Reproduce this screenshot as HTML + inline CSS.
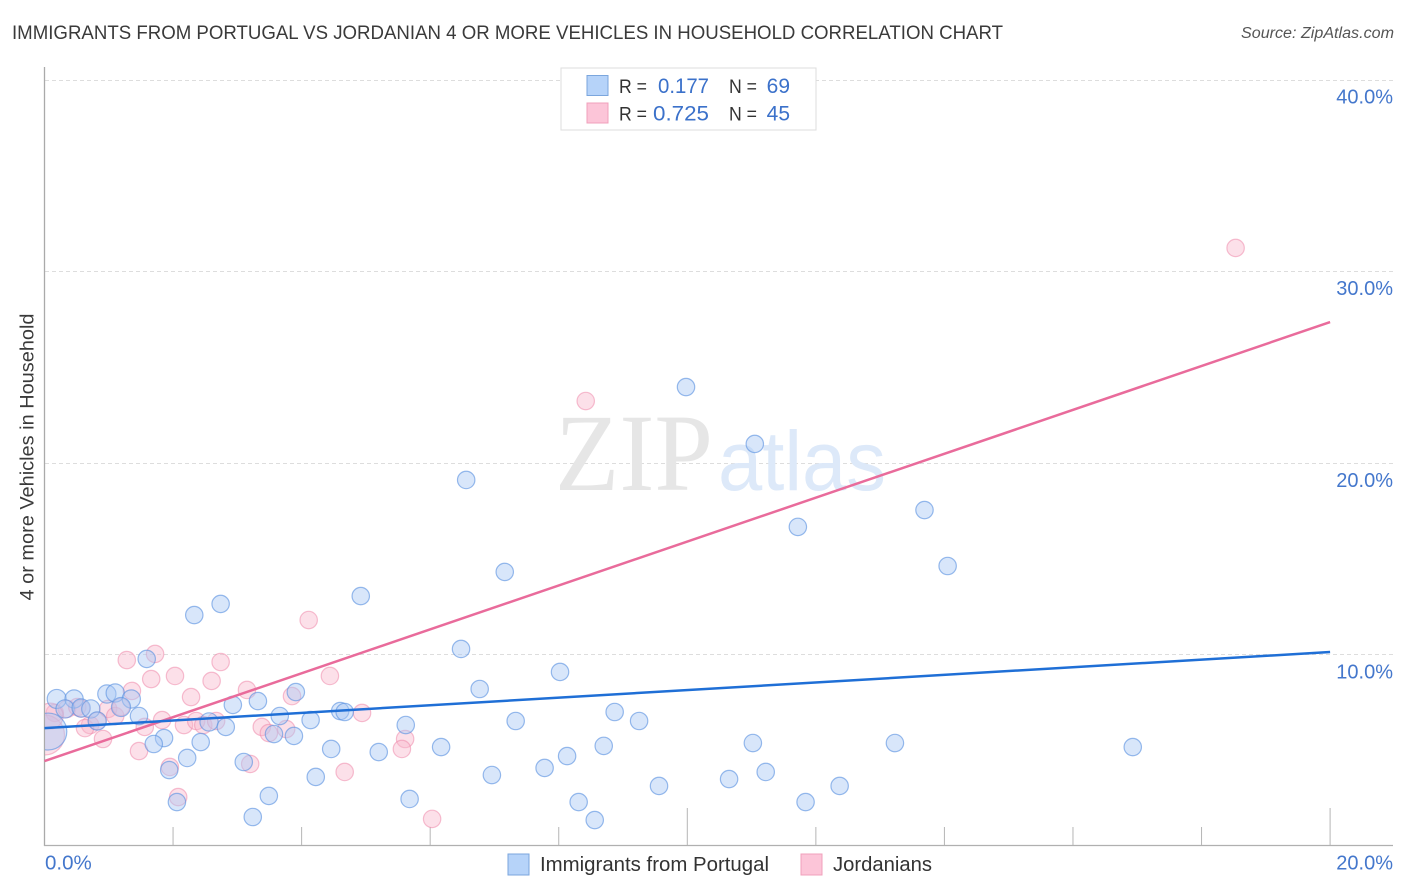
<!DOCTYPE html>
<html lang="en">
<head>
<meta charset="utf-8">
<title>Immigrants from Portugal vs Jordanian 4 or more Vehicles in Household Correlation Chart</title>
<style>
html,body{margin:0;padding:0;background:#fff;}
svg{display:block;font-family:"Liberation Sans",sans-serif;}
</style>
</head>
<body>
<svg id="chart" xmlns="http://www.w3.org/2000/svg" width="1406" height="892" viewBox="0 0 1406 892">
  <defs>
    <clipPath id="plot-clip"><rect x="45" y="60" width="1348" height="786"></rect></clipPath>
  </defs>
  <rect x="0" y="0" width="1406" height="892" fill="#ffffff"></rect>
  <text x="12" y="39" font-size="19.5" fill="#3a3a3a" textLength="991" lengthAdjust="spacingAndGlyphs">IMMIGRANTS FROM PORTUGAL VS JORDANIAN 4 OR MORE VEHICLES IN HOUSEHOLD CORRELATION CHART</text>
  <text x="1394" y="38" font-size="15.5" font-style="italic" fill="#555555" text-anchor="end" textLength="153" lengthAdjust="spacingAndGlyphs">Source: ZipAtlas.com</text>
  <g id="grid-layer"></g>
  <text x="555" y="490" font-family="'Liberation Serif',serif" font-size="110" fill="#e6e6e6" textLength="158" lengthAdjust="spacingAndGlyphs">ZIP</text>
  <text x="718" y="490" font-size="84" fill="#dde9f9" textLength="168" lengthAdjust="spacingAndGlyphs">atlas</text>
  <g id="axis-layer"></g>
  <g id="points-layer" clip-path="url(#plot-clip)"></g>
  <g id="trend-layer"></g>
  <g id="label-layer"></g>

  <g>
    <rect x="561" y="68" width="255" height="62" fill="#ffffff" stroke="#dddddd" stroke-width="1"></rect>
    <rect x="587" y="75.5" width="21" height="20" fill="#b6d3f9" stroke="#7ba6dd" stroke-width="1"></rect>
    <rect x="587" y="103" width="21" height="20" fill="#fcc5d8" stroke="#f0a0bb" stroke-width="1"></rect>
    <text x="619" y="93" font-size="19" fill="#333333" textLength="28" lengthAdjust="spacingAndGlyphs">R =</text>
    <text x="709" y="93" font-size="21" fill="#3b71ca" text-anchor="end" textLength="51" lengthAdjust="spacingAndGlyphs">0.177</text>
    <text x="729" y="93" font-size="19" fill="#333333" textLength="28" lengthAdjust="spacingAndGlyphs">N =</text>
    <text x="790" y="93" font-size="21" fill="#3b71ca" text-anchor="end">69</text>
    <text x="619" y="120.500" font-size="19" fill="#333333" textLength="28" lengthAdjust="spacingAndGlyphs">R =</text>
    <text x="709" y="120.500" font-size="21" fill="#3b71ca" text-anchor="end" textLength="56" lengthAdjust="spacingAndGlyphs">0.725</text>
    <text x="729" y="120.500" font-size="19" fill="#333333" textLength="28" lengthAdjust="spacingAndGlyphs">N =</text>
    <text x="790" y="120.500" font-size="21" fill="#3b71ca" text-anchor="end">45</text>
  </g>

  <text transform="translate(33.500 457) rotate(-90)" font-size="19" fill="#3a3a3a" text-anchor="middle" textLength="287" lengthAdjust="spacingAndGlyphs">4 or more Vehicles in Household</text>

  <g>
    <rect x="508" y="854" width="21" height="21" fill="#b6d3f9" stroke="#7ba6dd" stroke-width="1"></rect>
    <text x="540" y="871" font-size="20" fill="#333333" textLength="229" lengthAdjust="spacingAndGlyphs">Immigrants from Portugal</text>
    <rect x="801" y="854" width="21" height="21" fill="#fcc5d8" stroke="#f0a0bb" stroke-width="1"></rect>
    <text x="833" y="871" font-size="20" fill="#333333" textLength="99" lengthAdjust="spacingAndGlyphs">Jordanians</text>
  </g>
</svg>
<script>
const xTickValues = [0, 2, 4, 6, 8, 10, 12, 14, 16, 18, 20];
const xMajorTicks = [0, 10, 20];
const xTickLabels = ["0.0%", "20.0%"];
const yGridValues = [10, 20, 30, 40];
const yTickLabels = ["10.0%", "20.0%", "30.0%", "40.0%"];

const portugalX = [9.98,11.05,6.56,11.72,13.69,14.05,7.16,4.92,2.74,2.33,1.59,0.19,0.46,0.97,1.10,1.35,0.32,0.57,0.72,1.19,0.82,1.47,2.93,3.32,3.91,3.66,4.14,4.60,4.67,2.56,2.82,3.57,3.88,2.43,1.86,1.70,4.46,2.22,3.10,1.94,4.22,3.49,2.06,3.24,6.48,8.02,6.77,8.87,9.25,7.33,5.62,8.70,8.13,6.17,5.20,7.78,6.96,9.56,5.68,8.31,8.56,11.02,10.65,11.22,12.37,11.84,13.23,16.93,0.06];
const portugalY = [23.98,21.01,19.13,16.68,17.56,14.64,14.33,13.07,12.66,12.08,9.79,7.70,7.70,7.96,8.01,7.70,7.18,7.23,7.18,7.28,6.55,6.81,7.39,7.59,8.06,6.81,6.60,7.07,7.02,6.50,6.24,5.87,5.77,5.45,5.66,5.35,5.09,4.62,4.41,3.99,3.63,2.64,2.32,1.54,10.31,9.11,8.22,7.02,6.55,6.55,6.34,5.25,4.72,5.19,4.93,4.10,3.73,3.16,2.48,2.32,1.38,5.40,3.52,3.89,3.16,2.32,5.40,5.19,6.00];
const portugalWeight = [1,1,1,1,1,1,1,1,1,1,1,1.2,1.1,1.1,1.1,1.1,1.1,1.1,1.1,1.2,1.1,1,1,1,1,1,1,1,1,1.1,1,1,1,1,1,1,1,1,1,1,1,1,1,1,1,1,1,1,1,1,1,1,1,1,1,1,1,1,1,1,1,1,1,1,1,1,1,1,4.500];

const jordanianX = [1.72,1.28,2.74,2.03,1.66,2.60,4.44,1.36,3.15,2.28,3.85,0.99,1.10,0.16,0.35,0.51,0.71,0.63,1.83,1.56,2.17,2.36,2.47,2.67,0.91,1.47,1.95,2.08,3.20,3.38,3.49,3.76,4.67,4.94,5.61,5.56,6.03,4.11,8.42,18.53,1.19,0.82,0.57,0.00,0.09];
const jordanianY = [10.05,9.73,9.63,8.90,8.74,8.64,8.90,8.12,8.17,7.80,7.85,7.18,6.81,6.97,7.18,7.28,6.34,6.18,6.60,6.24,6.34,6.55,6.34,6.55,5.61,4.98,4.15,2.58,4.31,6.24,5.92,6.13,3.89,6.97,5.61,5.09,1.44,11.82,23.25,31.24,7.28,6.55,7.20,5.82,6.81];
const jordanianWeight = [1,1,1,1,1,1,1,1,1,1,1,1,1,1,1,1,1,1,1,1,1,1,1,1,1,1,1,1,1,1,1,1,1,1,1,1,1,1,1,1,1,1,1,5.300,2.200];

const trendX = [0, 20];
const portugalTrendY = [6.18, 10.15];
const jordanianTrendY = [4.46, 27.37];

const SVG_NS = "http://www.w3.org/2000/svg";
function xScale(v) { return 44.5 + v * 64.28; }
function yScale(v) { return 846.5 - v * 19.16; }
function radius(w) { return 8.7 * Math.sqrt(w); }
function make(tag, attrs, parent) {
  const el = document.createElementNS(SVG_NS, tag);
  for (const k in attrs) el.setAttribute(k, attrs[k]);
  parent.appendChild(el);
  return el;
}

const gridLayer = document.getElementById("grid-layer");
const axisLayer = document.getElementById("axis-layer");
const pointsLayer = document.getElementById("points-layer");
const trendLayer = document.getElementById("trend-layer");
const labelLayer = document.getElementById("label-layer");

yGridValues.forEach(function (v, i) {
  const gy = Math.floor(yScale(v)) + 0.5;
  const line = make("line", {x1: 45, x2: 1393, y1: gy, y2: gy, stroke: "#dddddd", "stroke-width": 1, "stroke-dasharray": "4 3"}, gridLayer);
  
  
  const label = make("text", {x: 1393, y: yScale(v) + 23.5, "font-size": 20, fill: "#4477cc", "text-anchor": "end"}, labelLayer);
  label.textContent = yTickLabels[i];
  
  
});

const yAxisLine = make("line", {x1: 44.5, x2: 44.5, y1: 67, y2: 846, stroke: "#aaaaaa", "stroke-width": 1.3}, axisLayer);


const xAxisLine = make("line", {x1: 44, x2: 1393, y1: 845.5, y2: 845.5, stroke: "#b0b0b0", "stroke-width": 1.3}, axisLayer);



xTickValues.forEach(function (v) {
  if (v === 0) return;
  const major = xMajorTicks.indexOf(v) >= 0;
  const tick = make("line", {x1: xScale(v), x2: xScale(v), y1: major ? 808 : 827, y2: 845, stroke: "#b5b5b5", "stroke-width": 1}, axisLayer);
  
  
});

const xLabelLeft = make("text", {x: xScale(0) + 0.5, y: 869.5, "font-size": 20.5, fill: "#4477cc"}, labelLayer);
xLabelLeft.textContent = xTickLabels[0];


const xLabelRight = make("text", {x: 1393, y: 869.5, "font-size": 20, fill: "#4477cc", "text-anchor": "end"}, labelLayer);
xLabelRight.textContent = xTickLabels[1];



jordanianX.forEach(function (x, i) {
  const c = make("circle", {cx: xScale(x), cy: yScale(jordanianY[i]), r: radius(jordanianWeight[i]), fill: "#f8b4ca", "fill-opacity": 0.42, stroke: "#ef8aab", "stroke-opacity": 0.55, "stroke-width": 1.2}, pointsLayer);
  
  
});
portugalX.forEach(function (x, i) {
  const c = make("circle", {cx: xScale(x), cy: yScale(portugalY[i]), r: radius(portugalWeight[i]), fill: "#a9c9f5", "fill-opacity": 0.46, stroke: "#5b92e0", "stroke-opacity": 0.62, "stroke-width": 1.2}, pointsLayer);
  
  
});

const pinkTrend = make("line", {x1: xScale(trendX[0]), x2: xScale(trendX[1]), y1: yScale(jordanianTrendY[0]), y2: yScale(jordanianTrendY[1]), stroke: "#e96b9b", "stroke-width": 2.5}, trendLayer);


const blueTrend = make("line", {x1: xScale(trendX[0]), x2: xScale(trendX[1]), y1: yScale(portugalTrendY[0]), y2: yScale(portugalTrendY[1]), stroke: "#1f6fd6", "stroke-width": 2.5}, trendLayer);


</script>
</body>
</html>
